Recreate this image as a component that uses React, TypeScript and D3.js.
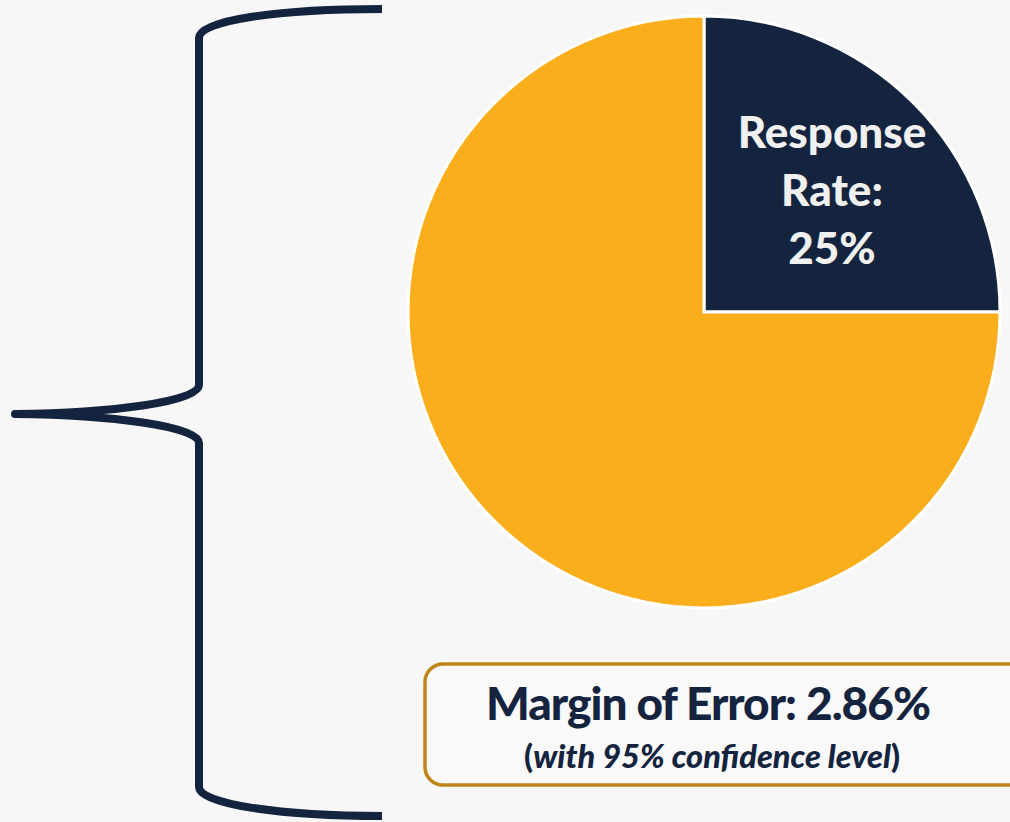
import React, { useRef, useEffect } from "react";
import { select, pie, arc, path } from "d3";

// slices of the response pie
const sliceNames = ["Responded", "Did not respond"];
const sliceValues = [25, 75];
const sliceColors = ["#14243f", "#fbae1b"];

// text shown on the chart
const sliceLabel = ["Response", "Rate:", "25%"];
const marginTitle = "Margin of Error: 2.86%";
const marginNote = "with 95% confidence level";

const W = 1010;
const H = 822;
const NAVY = "#14243f";
const FONT = "Lato, 'Open Sans', sans-serif";

function App() {
  const svgRef = useRef(null);

  useEffect(() => {
    const svg = select(svgRef.current);
    svg.selectAll("*").remove();

    svg.append("rect").attr("width", W).attr("height", H).attr("fill", "#f7f7f7");

    // curly brace on the left
    const b = path();
    b.moveTo(382, 9);
    b.bezierCurveTo(280, 9, 199, 20, 199, 38);
    b.lineTo(199, 385);
    b.bezierCurveTo(199, 402, 110, 413, 15, 414);
    b.bezierCurveTo(110, 415, 199, 426, 199, 443);
    b.lineTo(199, 787);
    b.bezierCurveTo(199, 804, 280, 816, 382, 816);

    svg
      .append("path")
      .attr("d", b.toString())
      .attr("fill", "none")
      .attr("stroke", NAVY)
      .attr("stroke-width", 8)
      .attr("stroke-linejoin", "round");

    // pie
    const cx = 704;
    const cy = 312;
    const r = 296;

    const pieGen = pie<number>().sort(null).startAngle(0).endAngle(2 * Math.PI);
    const arcs = pieGen(sliceValues);
    const arcGen = arc<any>().innerRadius(0).outerRadius(r);

    const g = svg.append("g").attr("transform", `translate(${cx},${cy})`);
    g.selectAll("path")
      .data(arcs)
      .join("path")
      .attr("d", arcGen)
      .attr("fill", (d, i) => sliceColors[i])
      .attr("stroke", "#ffffff")
      .attr("stroke-width", 3)
      .append("title")
      .text((d, i) => `${sliceNames[i]}: ${sliceValues[i]}%`);

    // label inside the small slice
    const label = g
      .append("text")
      .attr("text-anchor", "middle")
      .attr("fill", "#f0f0f0")
      .attr("font-family", FONT)
      .attr("font-weight", 900)
      .attr("font-size", 44);
    sliceLabel.forEach((t, i) => {
      label
        .append("tspan")
        .attr("x", 128)
        .attr("y", -164 + i * 58)
        .text(t);
    });

    // margin of error box
    svg
      .append("rect")
      .attr("x", 425)
      .attr("y", 664)
      .attr("width", 640)
      .attr("height", 121)
      .attr("rx", 18)
      .attr("fill", "#f9f9f9")
      .attr("stroke", "#c08518")
      .attr("stroke-width", 3.5);

    svg
      .append("text")
      .attr("x", 708)
      .attr("y", 720)
      .attr("text-anchor", "middle")
      .attr("fill", NAVY)
      .attr("font-family", FONT)
      .attr("font-weight", 900)
      .attr("font-size", 46)
      .attr("letter-spacing", -1)
      .text(marginTitle);

    const note = svg
      .append("text")
      .attr("x", 712)
      .attr("y", 768)
      .attr("text-anchor", "middle")
      .attr("fill", NAVY)
      .attr("font-family", FONT)
      .attr("font-weight", 900)
      .attr("font-size", 32.5);
    note.append("tspan").text("(");
    note.append("tspan").attr("font-style", "italic").text(marginNote);
    note.append("tspan").text(")");
  }, []);

  return (
    <div style={{ position: "absolute", left: 0, top: 0 }}>
      <svg ref={svgRef} width={W} height={H} style={{ display: "block" }} />
    </div>
  );
}

export default App;
